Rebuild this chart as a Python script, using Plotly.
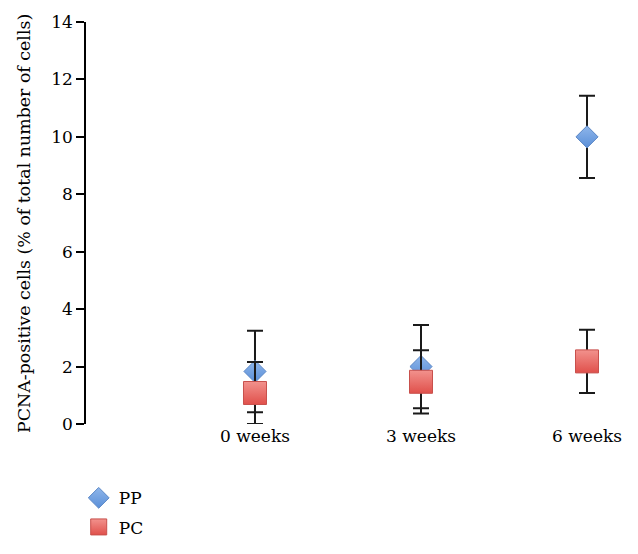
import plotly.graph_objects as go

categories = ["0 weeks", "3 weeks", "6 weeks"]
x_pos = [1, 2, 3]
pp_values = [1.83, 2.0, 10.0]
pp_err = [1.42, 1.45, 1.43]
pc_values = [1.08, 1.47, 2.18]
pc_err = [1.08, 1.1, 1.1]
y_title = "PCNA-positive cells (% of total number of cells)"

FONT = "DejaVu Serif"
FS = 17

fig = go.Figure()
fig.add_trace(go.Scatter(
    x=x_pos, y=pp_values, mode="markers", name="PP", legendgroup="pp",
    error_y=dict(type="data", array=pp_err, visible=True, color="#1a1a1a", thickness=2, width=8),
    marker=dict(symbol="diamond", size=17, color="#8fb6ea",
                gradient=dict(type="vertical", color="#5a8fd8"),
                line=dict(color="#5b87c6", width=1)),
))
fig.add_trace(go.Scatter(
    x=x_pos, y=pc_values, mode="markers", name="PC", legendgroup="pc",
    error_y=dict(type="data", array=pc_err, visible=True, color="#1a1a1a", thickness=2, width=8),
    marker=dict(symbol="square", size=23, color="#f2928d",
                gradient=dict(type="vertical", color="#e0504b"),
                line=dict(color="#c8504c", width=1)),
))

fig.add_annotation(
    text=y_title, textangle=-90, showarrow=False,
    xref="paper", yref="paper", x=-0.114, y=0.5, xanchor="center", yanchor="middle",
    font=dict(family=FONT, size=17.4, color="black"),
)

fig.update_layout(
    width=622, height=538,
    margin=dict(l=78, r=0, t=14, b=122, autoexpand=False),
    paper_bgcolor="white", plot_bgcolor="white",
    font=dict(family=FONT, size=FS, color="black"),
    showlegend=True,
    legend=dict(x=-0.0134, xanchor="left", y=-0.14, yanchor="top",
                tracegroupgap=4,
                font=dict(family=FONT, size=FS, color="black"),
                bgcolor="rgba(0,0,0,0)", itemsizing="trace"),
    xaxis=dict(range=[-0.018, 3.259], tickvals=x_pos, ticktext=categories,
               showline=False, showgrid=False, zeroline=False, ticks="", automargin=False,
               tickfont=dict(family=FONT, size=FS, color="black")),
    yaxis=dict(range=[0, 14], dtick=2, tick0=0, showline=True, linecolor="black", linewidth=1.5,
               ticks="outside", ticklen=8, tickwidth=1.5, tickcolor="black",
               showgrid=False, zeroline=False, automargin=False,
               tickfont=dict(family=FONT, size=FS, color="black")),
)

fig.write_html("out.html")
